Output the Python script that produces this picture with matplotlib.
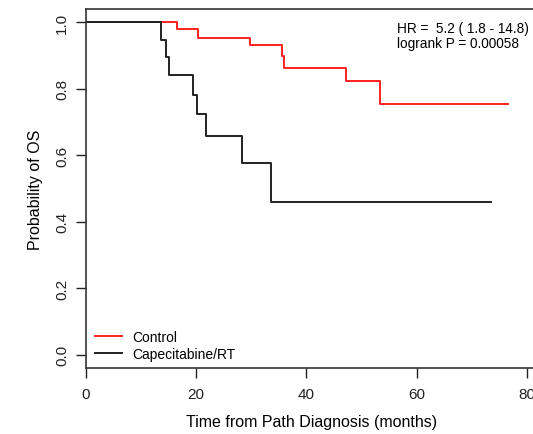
import matplotlib

matplotlib.use("Agg")
import matplotlib.pyplot as plt

plt.rcParams["font.family"] = ["Liberation Sans", "DejaVu Sans"]

# Kaplan-Meier step data
control_t = [0, 16.5, 20.4, 29.8, 35.6, 36.0, 47.1, 53.3, 76.5]
control_s = [1.0, 0.979, 0.954, 0.931, 0.90, 0.864, 0.824, 0.754, 0.754]
cape_t = [0, 13.6, 14.5, 15.0, 19.5, 20.2, 21.8, 28.3, 33.5, 73.5]
cape_s = [1.0, 0.947, 0.897, 0.841, 0.782, 0.724, 0.659, 0.576, 0.460, 0.460]

x_ticks = [0, 20, 40, 60, 80]
y_ticks = [0.0, 0.2, 0.4, 0.6, 0.8, 1.0]

W, H = 533, 435
fig = plt.figure(figsize=(W / 100, H / 100), dpi=100)
ax = fig.add_axes([86 / W, 1 - 369 / H, (538 - 86) / W, (369 - 10) / H])

ax.step(control_t, control_s, where="post", color="#ff2020", lw=1.4, label="Control")
ax.step(cape_t, cape_s, where="post", color="#222222", lw=1.4, label="Capecitabine/RT")

ax.set_xlim(0, 82)
ax.set_ylim(-0.04, 1.04)
ax.set_xticks(x_ticks)
ax.set_yticks(y_ticks)
ax.set_yticklabels([f"{v:.1f}" for v in y_ticks], rotation=90, va="center")
ax.tick_params(axis="x", direction="out", length=7, width=1, labelsize=11, pad=7, colors="#222222")
ax.tick_params(axis="y", direction="out", length=7, width=1, labelsize=11, pad=5, colors="#222222")
for sp in ax.spines.values():
    sp.set_color("#333333")
    sp.set_linewidth(1.2)

ax.set_xlabel("Time from Path Diagnosis (months)", fontsize=11.5, labelpad=9)
ax.set_ylabel("Probability of OS", fontsize=11.5, labelpad=9)

ax.text(56.4, 1.005, "HR =  5.2 ( 1.8 - 14.8)\nlogrank P = 0.00058", fontsize=9.8,
        va="top", ha="left", linespacing=1.15)

ax.legend(loc="lower left", frameon=False, fontsize=10, handlelength=1.9,
          handletextpad=0.8, borderaxespad=0.1, labelspacing=0.2, bbox_to_anchor=(0.005, 0.0))

fig.savefig("out.png", dpi=100)
